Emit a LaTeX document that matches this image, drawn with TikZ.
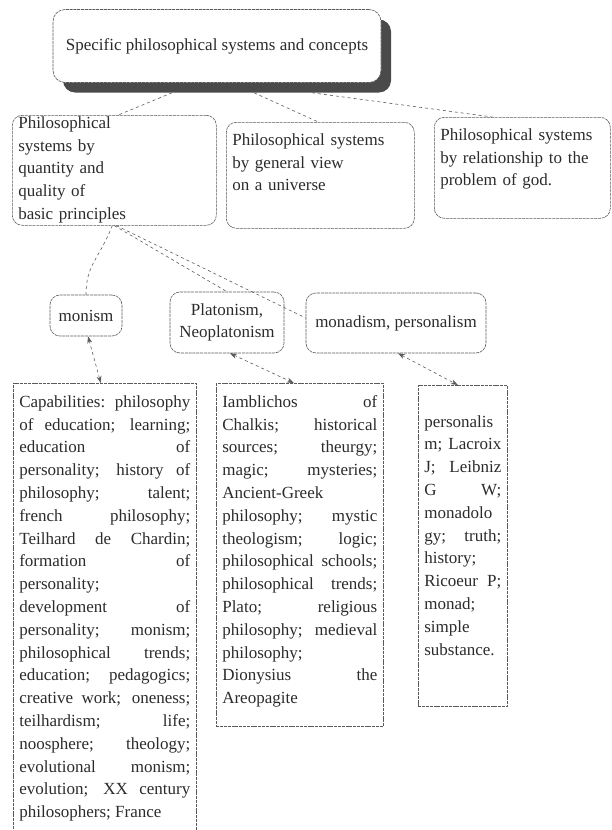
\documentclass[tikz,border=0pt]{standalone}
\usepackage{fontspec}
\setmainfont{Liberation Serif}
\usepackage{tikz}
\usetikzlibrary{arrows.meta, shadows}
\definecolor{MapInk}{HTML}{2B2B2B}
\definecolor{MapLine}{HTML}{5A5A5A}
\definecolor{MapShade}{HTML}{4A4A4A}
\tolerance=10000
\hyphenpenalty=10000
\exhyphenpenalty=10000

\begin{document}
\begin{tikzpicture}[x=1pt, y=-1pt, font=\fontsize{17}{22.8}\selectfont, text=MapInk,
  boxline/.style={draw=MapLine, line width=0.6pt, dash pattern=on 3pt off 0.8pt},
  head/.style={boxline, rounded corners=12pt, minimum width=328pt, minimum height=73pt,
    fill=white, drop shadow={shadow xshift=10pt, shadow yshift=-10pt, fill=MapShade, opacity=1}},
  groupbox/.style={boxline, rounded corners=10pt, anchor=north west, align=left,
    inner xsep=6pt, inner ysep=1pt},
  termbox/.style={boxline, rounded corners=10pt, align=center},
  listbox/.style={boxline, anchor=north west, align=justify, inner xsep=6pt,
    inner ysep=2pt, text height=22pt},
  link/.style={draw=MapLine, line width=0.6pt, dashed},
  twoway/.style={link, {Stealth[length=7pt,width=5pt]}-{Stealth[length=7pt,width=5pt]}}]
\useasboundingbox (0,0) rectangle (612,830);
\clip (0,0) rectangle (612,830);

% root
\node[head] (top) at (217,46) {Specific philosophical systems and concepts};

% second row
\node[groupbox, text width=192pt, text height=12pt, text depth=96pt] (quant) at (12,115)
  {Philosophical\\ systems by\\ quantity and\\ quality of\\ basic principles};
\node[groupbox, text width=176pt, text height=22pt, text depth=82pt] (view) at (226,122)
  {Philosophical systems\\ by general view\\ on a universe};
\node[groupbox, text width=164pt, text height=22pt, text depth=77pt] (god) at (434,117)
  {Philosophical systems\\ by relationship to the\\ problem of god.};

% third row
\node[termbox, minimum width=72pt, minimum height=41pt] (monism) at (86,315.5) {monism};
\node[termbox, minimum width=114pt, minimum height=61pt] (plato) at (227,322.5)
  {Platonism,\\ Neoplatonism};
\node[termbox, minimum width=180pt, minimum height=60pt] (monad) at (396,323)
  {monadism, personalism};

% keyword lists
\node[listbox, text width=171pt, text depth=450pt] (monlist) at (13,383)
  {Capabilities: philosophy\linebreak
   of education; learning;\linebreak
   education of\linebreak
   personality; history of\linebreak
   philosophy; talent;\linebreak
   french philosophy;\linebreak
   Teilhard de Chardin;\linebreak
   formation of\linebreak
   personality;\newline
   development of\linebreak
   personality; monism;\linebreak
   philosophical trends;\linebreak
   education; pedagogics;\linebreak
   creative work; oneness;\linebreak
   teilhardism; life;\linebreak
   noosphere; theology;\linebreak
   evolutional monism;\linebreak
   evolution; XX century\linebreak
   philosophers; France};
\node[listbox, text width=155pt, text depth=317pt] (platolist) at (216,383)
  {Iamblichos of\linebreak
   Chalkis; historical\linebreak
   sources; theurgy;\linebreak
   magic; mysteries;\linebreak
   Ancient-Greek\newline
   philosophy; mystic\linebreak
   theologism; logic;\linebreak
   philosophical schools;\linebreak
   philosophical trends;\linebreak
   Plato; religious\linebreak
   philosophy; medieval\linebreak
   philosophy;\newline
   Dionysius the\linebreak
   Areopagite};
\node[listbox, text width=77pt, text height=17pt, text depth=300pt] (monadlist) at (418,385)
  {\mbox{}\newline
   personalis\newline
   m; Lacroix\linebreak
   J; Leibniz\linebreak
   G W;\linebreak
   monadolo\newline
   gy; truth;\linebreak
   history;\newline
   Ricoeur P;\linebreak
   monad;\newline
   simple\newline
   substance.};

% connectors
\draw[link] ([xshift=-45pt,yshift=-10pt]top.south) -- ([xshift=4pt]quant.north);
\draw[link] ([xshift=37pt,yshift=-10pt]top.south) -- ([xshift=-2pt]view.north);
\draw[link] ([xshift=95pt,yshift=-10pt]top.south) -- ([xshift=-30pt]god.north);

\draw[link] ([xshift=-2pt]quant.south) .. controls +(-14,35) and +(0,-30) .. (monism.north);
\draw[link] (quant.south) -- (plato.north);
\draw[link] ([xshift=2pt]quant.south) -- ([yshift=5pt]monad.west);

\draw[twoway] ([xshift=2pt]monism.south) -- ([xshift=-4pt]monlist.north);
\draw[twoway] ([xshift=3pt]plato.south) -- ([xshift=-6pt]platolist.north);
\draw[twoway] ([xshift=2pt]monad.south) -- ([xshift=-5pt]monadlist.north);
\end{tikzpicture}
\end{document}
